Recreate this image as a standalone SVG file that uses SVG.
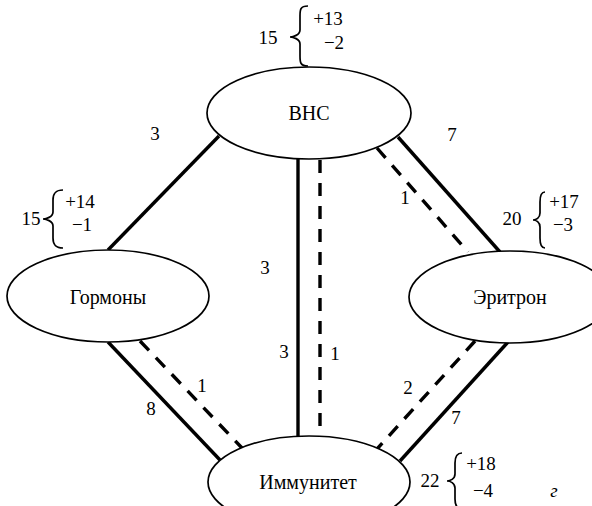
<svg xmlns="http://www.w3.org/2000/svg" width="592" height="506" viewBox="0 0 592 506">
<style>
.node{fill:#fff;stroke:#000;stroke-width:1.7}
.lbl{font-family:'Liberation Serif','Times New Roman',serif;font-size:20px;fill:#000;text-anchor:middle}
.num{font-family:'Liberation Serif','Times New Roman',serif;font-size:19px;fill:#000;text-anchor:middle}
.solid{stroke:#000;stroke-width:3.4;fill:none}
.dash{stroke:#000;stroke-width:3.4;fill:none;stroke-dasharray:13 10}
.brace{stroke:#000;stroke-width:1.7;fill:none}
</style>
<rect width="592" height="506" fill="#fff"/>
<g id="connectors">
<line class="solid" x1="219" y1="136" x2="108" y2="250"/>
<line class="solid" x1="398" y1="137" x2="500" y2="252"/>
<line class="dash" x1="377" y1="148" x2="468" y2="252"/>
<line class="solid" x1="298" y1="159" x2="298" y2="436"/>
<line class="dash" x1="320" y1="160" x2="320" y2="436"/>
<line class="solid" x1="108" y1="342" x2="220" y2="460"/>
<line class="dash" x1="140" y1="341" x2="242" y2="448"/>
<line class="solid" x1="508" y1="342" x2="400" y2="461"/>
<line class="dash" x1="475" y1="341" x2="377" y2="449"/>
<g id="edge-labels">
<text class="num" x="155" y="140">3</text>
<text class="num" x="452" y="141">7</text>
<text class="num" x="405" y="204">1</text>
<text class="num" x="265" y="274">3</text>
<text class="num" x="284" y="358">3</text>
<text class="num" x="335" y="360">1</text>
<text class="num" x="202" y="392">1</text>
<text class="num" x="151" y="415">8</text>
<text class="num" x="408" y="394">2</text>
<text class="num" x="456" y="424">7</text>
</g>
</g>
<g id="node-vns">
<ellipse class="node" cx="309" cy="113" rx="102" ry="46"/>
<text class="lbl" x="309" y="120">ВНС</text>
<text class="num" x="268" y="44">15</text>
<path class="brace" d="M308,6 C300,6 300,10 300,16 L300,30 C300,35 293,37 290,37 C293,37 300,39 300,44 L300,56 C300,62 300,66 308,66"/>
<text class="num" x="328" y="25">+13</text>
<text class="num" x="334" y="49">−2</text>
</g>
<g id="node-gormony">
<ellipse class="node" cx="108" cy="296" rx="101" ry="46"/>
<text class="lbl" x="108" y="304">Гормоны</text>
<text class="num" x="31" y="225">15</text>
<path class="brace" d="M63,190 C55,190 53,194 53,200 L53,212 C53,217 46,219 43,219 C46,219 53,221 53,226 L53,238 C53,244 55,248 63,248"/>
<text class="num" x="80" y="208">+14</text>
<text class="num" x="82" y="231">−1</text>
</g>
<g id="node-eritron">
<ellipse class="node" cx="510" cy="297" rx="101" ry="46"/>
<text class="lbl" x="510" y="304">Эритрон</text>
<text class="num" x="512" y="225">20</text>
<path class="brace" d="M545,192 C541,192 540,196 540,202 L540,213 C540,218 536,220 533,220 C536,220 540,222 540,227 L540,238 C540,244 541,248 545,248"/>
<text class="num" x="564" y="208">+17</text>
<text class="num" x="563" y="231">−3</text>
</g>
<g id="node-immunitet">
<ellipse class="node" cx="309" cy="482" rx="101" ry="46"/>
<text class="lbl" x="308" y="489">Иммунитет</text>
<text class="num" x="430" y="487">22</text>
<path class="brace" d="M462,453 C457,453 455,457 455,463 L455,474 C455,479 450,481 447,481 C450,481 455,483 455,488 L455,499 C455,505 457,509 462,509"/>
<text class="num" x="481" y="470">+18</text>
<text class="num" x="483" y="497">−4</text>
</g>
<text class="num" x="554" y="497" font-style="italic">г</text>
</svg>
